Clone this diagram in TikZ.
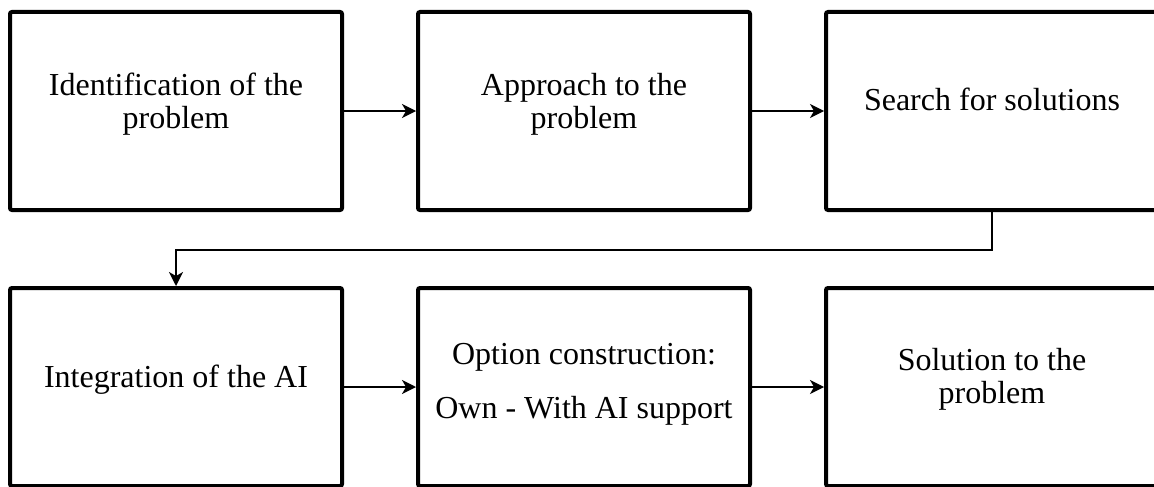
\documentclass[tikz,border=0pt]{standalone}
\usepackage{fontspec}
\setmainfont{Liberation Serif}
\usetikzlibrary{arrows.meta}

\tikzset{
  stage/.style={draw, line width=4pt, rounded corners=2pt, minimum width=332pt, minimum height=198pt, inner sep=0pt},
  stagetext/.style={align=center, font=\fontsize{32}{33}\selectfont, inner sep=0pt},
  flow/.style={-{Stealth[length=14pt,width=14pt,inset=4pt]}, line width=1.4pt}
}

\begin{document}
\begin{tikzpicture}[x=1pt,y=-1pt]
        \useasboundingbox (0,0) rectangle (1154,487);
        % first row of stages
        \node[stage] (ident) at (176,111) {};
        \node[stage] (approach) at (584,111) {};
        \node[stage] (search) at (992,111) {};
        \node[stagetext] (ident-t) at (176,104) {Identification of the\\problem};
        \node[stagetext] (approach-t) at (584,104) {Approach to the\\problem};
        \node[stagetext] (search-t) at (992,99) {Search for solutions};

        % second row of stages
        \node[stage] (integr) at (176,387) {};
        \node[stage] (option) at (584,387) {};
        \node[stage] (solution) at (992,387) {};
        \node[stagetext] (integr-t) at (176,380) {Integration of the AI};
        \node[stagetext] (option-t) at (584,384) {Option construction:\\[21pt]Own - With AI support};
        \node[stagetext] (solution-t) at (992,379) {Solution to the\\problem};

        \draw[flow] (ident) -- (approach);
        \draw[flow] (approach) -- (search);
        \draw[flow] (search.south) -- ++(0,38) -| (integr.north);
        \draw[flow] (integr) -- (option);
        \draw[flow] (option) -- (solution);
    \end{tikzpicture}
\end{document}
